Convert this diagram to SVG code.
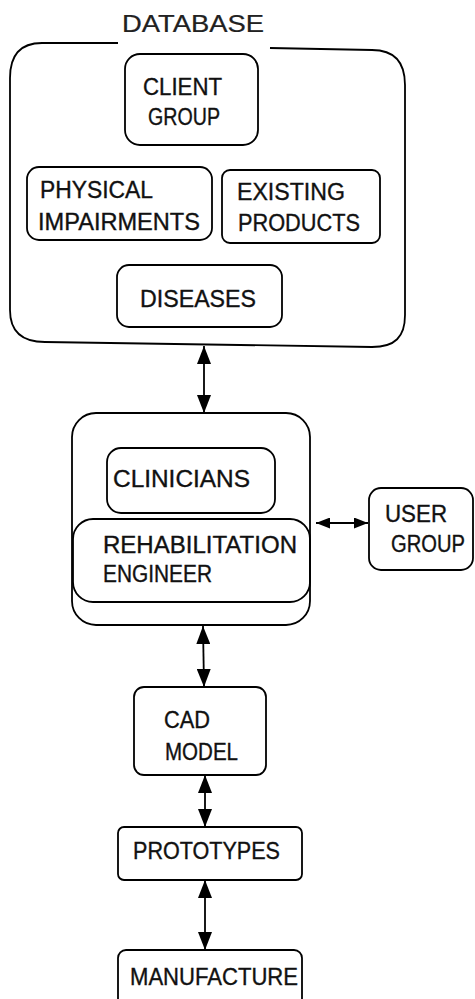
<svg xmlns="http://www.w3.org/2000/svg" width="475" height="999" viewBox="0 0 475 999">
  <style>
    .box { fill: none; stroke: #000; stroke-width: 1.8; }
    .lbl { font-family: "Liberation Sans", Arial, sans-serif; font-size: 23px; fill: #111; stroke: #111; stroke-width: 0.35; }
    .title { stroke-width: 0.2; fill: #222; }
    .link { stroke: #000; stroke-width: 1.8; fill: none; }
  </style>
  <defs>
    <marker id="head" markerUnits="userSpaceOnUse" markerWidth="18" markerHeight="14" refX="18" refY="7" orient="auto-start-reverse">
      <path d="M0,0 L18,7 L0,14 z" fill="#000"/>
    </marker>
    <marker id="headSmall" markerUnits="userSpaceOnUse" markerWidth="14" markerHeight="11" refX="14" refY="5.5" orient="auto-start-reverse">
      <path d="M0,0 L14,5.5 L0,11 z" fill="#000"/>
    </marker>
  </defs>
  <rect width="475" height="999" fill="#fff"/>

  <!-- database container -->
  <g id="database">
    <path class="box" d="M118,43 L42,43 C20,43 10,55 10,78 L10,310 C10,332 22,342 45,342 L372,347 C395,347 405,337 405,315 L405,85 C405,62 395,50 372,50 L270,48"/>
    <text class="lbl title" x="122" y="32" font-size="25" textLength="142" lengthAdjust="spacingAndGlyphs">DATABASE</text>
  </g>
  <g id="client-group">
    <rect class="box" x="125" y="54" width="133" height="91" rx="15"/>
    <text class="lbl" x="143" y="95" textLength="79" lengthAdjust="spacingAndGlyphs">CLIENT</text>
    <text class="lbl" x="148" y="125" textLength="72" lengthAdjust="spacingAndGlyphs">GROUP</text>
  </g>
  <g id="physical-impairments">
    <rect class="box" x="27" y="167" width="185" height="73" rx="12"/>
    <text class="lbl" x="40" y="198" textLength="113" lengthAdjust="spacingAndGlyphs">PHYSICAL</text>
    <text class="lbl" x="38" y="230" textLength="162" lengthAdjust="spacingAndGlyphs">IMPAIRMENTS</text>
  </g>
  <g id="existing-products">
    <rect class="box" x="222" y="170" width="158" height="73" rx="8"/>
    <text class="lbl" x="237" y="200" textLength="108" lengthAdjust="spacingAndGlyphs">EXISTING</text>
    <text class="lbl" x="238" y="231" textLength="122" lengthAdjust="spacingAndGlyphs">PRODUCTS</text>
  </g>
  <g id="diseases">
    <rect class="box" x="117" y="265" width="165" height="62" rx="12"/>
    <text class="lbl" x="140" y="307" textLength="116" lengthAdjust="spacingAndGlyphs">DISEASES</text>
  </g>

  <!-- team container -->
  <g id="team">
    <rect class="box" x="72" y="413" width="238" height="212" rx="24"/>
  </g>
  <g id="clinicians">
    <rect class="box" x="107" y="448" width="168" height="65" rx="14"/>
    <text class="lbl" x="113" y="487" textLength="137" lengthAdjust="spacingAndGlyphs">CLINICIANS</text>
  </g>
  <g id="rehabilitation-engineer">
    <rect class="box" x="73" y="519" width="237" height="83" rx="20"/>
    <text class="lbl" x="103" y="553" textLength="194" lengthAdjust="spacingAndGlyphs">REHABILITATION</text>
    <text class="lbl" x="103" y="582" textLength="109" lengthAdjust="spacingAndGlyphs">ENGINEER</text>
  </g>
  <g id="user-group">
    <rect class="box" x="369" y="488" width="104" height="82" rx="12"/>
    <text class="lbl" x="385" y="522" textLength="62" lengthAdjust="spacingAndGlyphs">USER</text>
    <text class="lbl" x="391" y="552" textLength="74" lengthAdjust="spacingAndGlyphs">GROUP</text>
  </g>

  <g id="cad-model">
    <rect class="box" x="134" y="687" width="132" height="88" rx="10"/>
    <text class="lbl" x="164" y="728" textLength="46" lengthAdjust="spacingAndGlyphs">CAD</text>
    <text class="lbl" x="165" y="760" textLength="73" lengthAdjust="spacingAndGlyphs">MODEL</text>
  </g>
  <g id="prototypes">
    <rect class="box" x="118" y="827" width="184" height="53" rx="6"/>
    <text class="lbl" x="133" y="859" textLength="147" lengthAdjust="spacingAndGlyphs">PROTOTYPES</text>
  </g>
  <g id="manufacture">
    <rect class="box" x="118" y="950" width="184" height="70" rx="8"/>
    <text class="lbl" x="130" y="985" textLength="168" lengthAdjust="spacingAndGlyphs">MANUFACTURE</text>
  </g>

  <!-- connectors -->
  <g id="connectors">
    <line class="link" x1="204" y1="346" x2="204" y2="413" marker-start="url(#head)" marker-end="url(#head)"/>
    <line class="link" x1="203" y1="626" x2="204" y2="687" marker-start="url(#head)" marker-end="url(#head)"/>
    <line class="link" x1="205" y1="775" x2="205" y2="827" marker-start="url(#head)" marker-end="url(#head)"/>
    <line class="link" x1="205" y1="880" x2="205" y2="950" marker-start="url(#head)" marker-end="url(#head)"/>
    <line class="link" x1="316" y1="523" x2="368" y2="523" marker-start="url(#headSmall)" marker-end="url(#headSmall)"/>
  </g>
</svg>
